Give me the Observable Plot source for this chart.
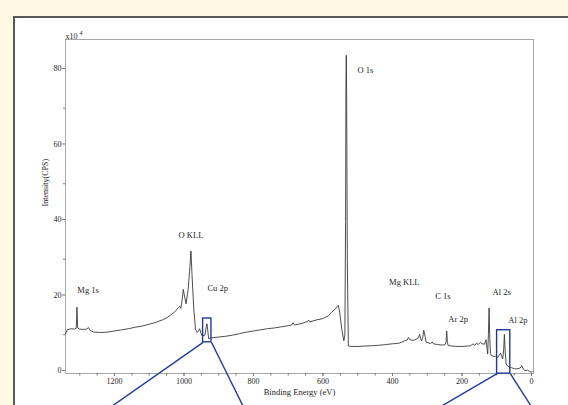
<!DOCTYPE html>
<html>
<head>
<meta charset="utf-8">
<script src="https://cdn.jsdelivr.net/npm/d3@7"></script>
<script src="https://cdn.jsdelivr.net/npm/@observablehq/plot@0.6"></script>
<style>
  html, body { margin: 0; padding: 0; width: 568px; height: 405px; overflow: hidden; background: #fdf9e3; }
  #panel { position: absolute; left: 13px; top: 16px; width: 600px; height: 450px; background: #fff;
           border-left: 2px solid #585858; border-top: 2px solid #585858; }
  #chart { position: absolute; left: 0; top: 0; }
</style>
</head>
<body>
<div id="panel"></div>
<div id="chart"></div>
<script>
// Binding energy (eV) and intensity (x10^4 CPS)
const bindingEnergy = [
  1341, 1336, 1325, 1315, 1310, 1308, 1306, 1300, 1290, 1280, 1275, 1270, 1260, 1240, 1220, 1200,
  1180, 1160, 1140, 1120, 1100, 1080, 1060, 1048, 1036, 1024, 1016, 1012, 1009, 1005, 1002, 998,
  994, 988, 983, 980, 977, 972, 967, 962, 958, 955, 951, 948, 940, 936, 934, 932, 929, 920, 900,
  880, 860, 840, 820, 800, 780, 760, 740, 720, 700, 690, 686, 682, 660, 645, 642, 638, 620, 600,
  585, 575, 565, 560, 556, 552, 546, 540, 537, 535, 534, 533, 532, 530, 527, 520, 500, 480, 460,
  440, 420, 400, 380, 365, 358, 354, 350, 340, 332, 327, 322, 319, 316, 313, 310, 306, 303, 295,
  290, 286, 282, 270, 260, 250, 246, 244, 242, 240, 230, 212, 200, 185, 175, 168, 163, 158, 153,
  147, 142, 135, 131, 128, 126, 124, 122, 120, 118, 116, 110, 104, 100, 97, 93, 89, 86, 83, 80,
  78, 76, 73, 70, 65, 58, 49, 40, 32, 28, 25, 20, 12, 6, 1, -2
];
const intensity = [
  10.2, 11.3, 11.6, 11.5, 11.7, 17.3, 11.8, 11.5, 11.4, 11.5, 11.9, 11.2, 10.7, 10.6, 10.7, 11.0,
  11.3, 11.6, 12.0, 12.3, 12.8, 13.3, 14.0, 14.6, 15.4, 16.3, 17.2, 17.5, 17.0, 19.5, 22.0, 20.0,
  18.2, 22.0, 28.0, 32.2, 26.0, 17.1, 11.5, 10.6, 11.0, 11.6, 10.4, 9.7, 9.9, 12.0, 12.9, 11.5, 9.0, 9.2, 9.4,
  9.6, 9.9, 10.3, 10.7, 11.0, 11.3, 11.6, 11.8, 12.1, 12.4, 12.6, 13.2, 12.6, 13.0, 13.5, 13.9, 13.4, 13.9, 14.3,
  15.0, 16.0, 16.8, 17.4, 17.8, 16.0, 11.5, 8.4, 10.0, 40.0, 75.0, 84.0, 74.0, 30.0, 7.0, 6.9, 6.9, 7.0, 7.1,
  7.2, 7.4, 7.6, 7.8, 8.4, 8.6, 9.3, 8.7, 8.5, 8.8, 9.0, 10.1, 9.0, 8.4, 9.3, 11.2, 9.5, 8.0, 7.8,
  7.7, 8.1, 7.6, 7.4, 7.3, 7.3, 8.0, 11.0, 8.0, 7.2, 7.0, 6.9, 6.9, 7.0, 7.1, 7.6, 7.2, 7.8, 7.4,
  8.0, 7.6, 7.5, 8.7, 6.5, 4.9, 10.0, 17.1, 9.0, 5.0, 4.5, 4.3, 4.3, 4.0, 4.0, 4.6, 5.1, 4.3, 3.6, 6.0,
  10.1, 6.0, 2.3, 1.8, 1.5, 1.3, 1.0, 1.0, 1.2, 1.8, 1.2, 0.5, 0.6, 0.3, 0.1, 0.2
];

// Peak labels with the binding energy / intensity where they are written
const peakNames = ["O 1s", "O KLL", "Mg 1s", "Cu 2p", "Mg KLL", "C 1s", "Ar 2p", "Al 2s", "Al 2p"];
const peakLabelBE = [478, 980, 1276, 903, 366, 255, 211, 86, 39];
const peakLabelI = [80.0, 36.3, 21.9, 22.2, 23.9, 20.2, 14.0, 21.3, 13.8];

// Zoom boxes (binding energy range, intensity range) and their leader line ends
const boxBE1 = [945, 99];
const boxBE2 = [921, 61];
const boxI1 = [14.3, 11.2];
const boxI2 = [8.0, -0.3];
const leaderEndBE = [[1207, 830], [259, 1]];
const leaderEndI = -8.9;

const xTicks = [1200, 1000, 800, 600, 400, 200, 0];
const yTicks = [0, 20, 40, 60, 80];
const yMinor = [10, 30, 50, 70];

const spectrum = bindingEnergy.map((e, i) => ({e, v: intensity[i]}));
const peaks = peakNames.map((n, i) => ({n, e: peakLabelBE[i], v: peakLabelI[i]}));
const boxes = boxBE1.map((b, i) => ({x1: b, x2: boxBE2[i], y1: boxI1[i], y2: boxI2[i]}));
const leaders = [];
boxes.forEach((b, i) => {
  leaders.push({x1: b.x1, y1: b.y2, x2: leaderEndBE[i][0], y2: leaderEndI});
  leaders.push({x1: b.x2, y1: b.y2, x2: leaderEndBE[i][1], y2: leaderEndI});
});

const blue = "#23399a";
const ink = "#1e1e1e";

const chart = Plot.plot({
  width: 568,
  height: 405,
  marginLeft: 65,
  marginRight: 35,
  marginTop: 39,
  marginBottom: 32,
  style: {background: "transparent", fontFamily: "'Liberation Serif', serif", fontSize: "8px", color: ink},
  x: {domain: [1341, -5.8]},
  y: {domain: [-0.26, 88.2]},
  marks: [
    Plot.frame({stroke: "#a8a8a8", strokeWidth: 1}),
    Plot.axisX({ticks: d3.range(0, 1341, 50), tickSize: 2.5, text: null, stroke: "#777", label: null}),
    Plot.axisX({ticks: xTicks, tickSize: 3, tickPadding: 2, tickFormat: d => String(d), stroke: "#777", fill: ink, label: null}),
    Plot.axisY({ticks: yMinor, tickSize: 2, text: null, stroke: "#777", label: null}),
    Plot.axisY({ticks: yTicks, tickSize: 3, tickPadding: 1, dy: -2, tickFormat: d => String(d), stroke: "#777", fill: ink, label: null}),
    Plot.text(["x10"], {frameAnchor: "top-left", textAnchor: "start", lineAnchor: "bottom", dy: -1, fill: ink}),
    Plot.text(["4"], {frameAnchor: "top-left", textAnchor: "start", lineAnchor: "bottom", dx: 14, dy: -5, fontSize: 6, fill: ink}),
    Plot.text(["Intensity(CPS)"], {frameAnchor: "left", rotate: -90, dx: -20, fill: ink}),
    Plot.text(["Binding Energy (eV)"], {frameAnchor: "bottom", dy: 21, fill: ink, fontSize: 8.5}),
    Plot.line(spectrum, {x: "e", y: "v", stroke: "#3a3a3a", strokeWidth: 0.9}),
    Plot.text(peaks, {x: "e", y: "v", text: "n", fill: ink, fontSize: 8.5}),
    Plot.rect(boxes, {x1: "x1", x2: "x2", y1: "y1", y2: "y2", stroke: blue, strokeWidth: 1.4, fill: "none", clip: false}),
    Plot.link(leaders, {x1: "x1", y1: "y1", x2: "x2", y2: "y2", stroke: blue, strokeWidth: 1.4, clip: false})
  ]
});
document.getElementById("chart").appendChild(chart);
</script>
</body>
</html>
